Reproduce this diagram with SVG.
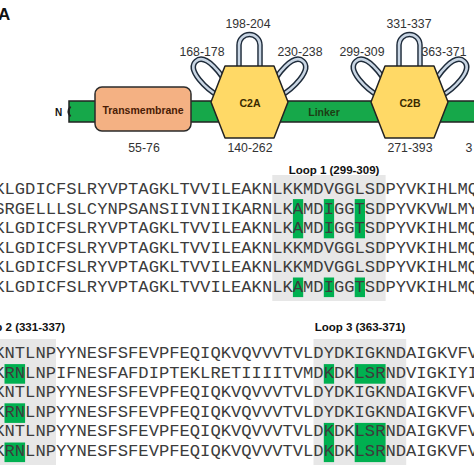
<svg xmlns="http://www.w3.org/2000/svg" width="474" height="474" viewBox="0 0 474 474">
<defs>
<style>
.num{font-family:"Liberation Sans",Arial,sans-serif;font-size:12.3px;fill:#333;text-anchor:middle}
.hex{fill:#ffd966;stroke:#222;stroke-width:1.5;stroke-linejoin:round}
.hext{font-family:"Liberation Sans",Arial,sans-serif;font-size:10.5px;font-weight:bold;fill:#3a2a00;text-anchor:middle}
.loopo{fill:none;stroke:#1f2c3b;stroke-width:5.5;stroke-linecap:round}
.loopi{fill:none;stroke:#c9d6e4;stroke-width:2.6;stroke-linecap:round}
.seq{font-family:"Liberation Mono","Courier New",monospace;font-size:17.17px;fill:#3c3c3c}
.lbl{font-family:"Liberation Sans",Arial,sans-serif;font-size:11.5px;font-weight:bold;fill:#111}
.g{fill:#00b050}
.gray{fill:#e7e7e7}
</style>
<path id="toploop" d="M -10.5,4 L -10.5,-21 A 10.5 10.5 0 0 1 10.5,-21 L 10.5,4"/>
<path id="sideloop" d="M -6,6 C -11,-8 -13,-36 0,-36 C 13,-36 11,-8 6,6"/>
</defs>
<rect width="474" height="474" fill="#fff"/>

<text id="panel-label" x="-2" y="20" font-family="Liberation Sans, Arial, sans-serif" font-weight="bold" font-size="17" fill="#111">A</text>

<g id="connectors">
<rect id="chain" x="69" y="101" width="420" height="21" fill="#16a84a" stroke="#222" stroke-width="1.5"/>
<path d="M70.5,106.5 q-4,5 0,10" fill="none" stroke="#222" stroke-width="2"/>
</g>

<g id="n-terminus"><text x="58.5" y="116" font-family="Liberation Sans, Arial, sans-serif" font-weight="bold" font-size="10" fill="#111" text-anchor="middle">N</text></g>

<g id="transmembrane">
<rect x="95" y="87" width="96" height="44" rx="7" fill="#f4b183" stroke="#2b2b2b" stroke-width="1.5"/>
<text x="143" y="113.5" font-family="Liberation Sans, Arial, sans-serif" font-weight="bold" font-size="10.5" fill="#4a1c05" text-anchor="middle">Transmembrane</text>
<text class="num" x="144" y="151.5">55-76</text>
</g>

<g id="linker"><text x="324" y="116" font-family="Liberation Sans, Arial, sans-serif" font-weight="bold" font-size="10.5" fill="#1d3d14" text-anchor="middle">Linker</text></g>

<g id="loops-c2a">
<use href="#sideloop" class="loopo" transform="translate(220,88) rotate(-42)"/>
<use href="#sideloop" class="loopi" transform="translate(220,88) rotate(-42)"/>
<use href="#toploop" class="loopo" transform="translate(249.5,66)"/>
<use href="#toploop" class="loopi" transform="translate(249.5,66)"/>
<use href="#sideloop" class="loopo" transform="translate(279,88) rotate(42)"/>
<use href="#sideloop" class="loopi" transform="translate(279,88) rotate(42)"/>
</g>
<g id="loops-c2b">
<use href="#sideloop" class="loopo" transform="translate(380,88) rotate(-42)"/>
<use href="#sideloop" class="loopi" transform="translate(380,88) rotate(-42)"/>
<use href="#toploop" class="loopo" transform="translate(409.5,66)"/>
<use href="#toploop" class="loopi" transform="translate(409.5,66)"/>
<use href="#sideloop" class="loopo" transform="translate(440,88) rotate(42)"/>
<use href="#sideloop" class="loopi" transform="translate(440,88) rotate(42)"/>
</g>

<g id="c2a">
<polygon class="hex" points="211,102 225,66 274,66 288,102 274,138 225,138"/>
<text class="hext" x="250" y="107">C2A</text>
<text class="num" x="250" y="151.5">140-262</text>
</g>
<g id="c2b">
<polygon class="hex" points="371,102 385,66 434,66 448,102 434,138 385,138"/>
<text class="hext" x="410" y="107">C2B</text>
<text class="num" x="410" y="151.5">271-393</text>
</g>

<g id="loop-labels">
<text class="num" x="202" y="56">168-178</text>
<text class="num" x="248" y="27.5">198-204</text>
<text class="num" x="300" y="56">230-238</text>
<text class="num" x="362" y="56">299-309</text>
<text class="num" x="409" y="27.5">331-337</text>
<text class="num" x="444" y="56" text-anchor="start">363-371</text>
<text class="num" x="469" y="151.5" text-anchor="start">3</text>
</g>

<g id="alignment-loop1">
<rect class="gray" x="272.3" y="175" width="113.3" height="126"/>
<rect class="g" x="292.9" y="199.1" width="10.3" height="39.2"/>
<rect class="g" x="323.8" y="199.1" width="10.3" height="39.2"/>
<rect class="g" x="354.7" y="199.1" width="10.3" height="39.2"/>
<rect class="g" x="292.9" y="277.5" width="10.3" height="19.6"/>
<rect class="g" x="323.8" y="277.5" width="10.3" height="19.6"/>
<rect class="g" x="354.7" y="277.5" width="10.3" height="19.6"/>
<text class="lbl" x="334" y="174" text-anchor="middle">Loop 1 (299-309)</text>
<text class="seq" x="-5.8" y="193.9">KLGDICFSLRYVPTAGKLTVVILEAKNLKKMDVGGLSDPYVKIHLMQ</text>
<text class="seq" x="-5.8" y="213.5">SRGELLLSLCYNPSANSIIVNIIKARNLKAMDIGGTSDPYVKVWLMY</text>
<text class="seq" x="-5.8" y="233.1">KLGDICFSLRYVPTAGKLTVVILEAKNLKAMDIGGTSDPYVKIHLMQ</text>
<text class="seq" x="-5.8" y="252.7">KLGDICFSLRYVPTAGKLTVVILEAKNLKKMDVGGLSDPYVKIHLMQ</text>
<text class="seq" x="-5.8" y="272.3">KLGDICFSLRYVPTAGKLTVVILEAKNLKKMDVGGLSDPYVKIHLMQ</text>
<text class="seq" x="-5.8" y="291.9">KLGDICFSLRYVPTAGKLTVVILEAKNLKAMDIGGTSDPYVKIHLMQ</text>
</g>

<g id="alignment-loops2-3">
<rect class="gray" x="-1" y="339" width="57" height="126"/>
<rect class="gray" x="313.5" y="339" width="92.7" height="126"/>
<rect class="g" x="4.5" y="364.1" width="20.6" height="19.6"/>
<rect class="g" x="4.5" y="403.3" width="20.6" height="19.6"/>
<rect class="g" x="4.5" y="442.5" width="20.6" height="19.6"/>
<rect class="g" x="323.8" y="364.1" width="10.3" height="19.6"/>
<rect class="g" x="354.7" y="364.1" width="30.9" height="19.6"/>
<rect class="g" x="323.8" y="422.9" width="10.3" height="39.2"/>
<rect class="g" x="354.7" y="422.9" width="30.9" height="39.2"/>
<text class="lbl" x="65" y="331" text-anchor="end">Loop 2 (331-337)</text>
<text class="lbl" x="360" y="331" text-anchor="middle">Loop 3 (363-371)</text>
<text class="seq" x="-5.8" y="357.9">KNTLNPYYNESFSFEVPFEQIQKVQVVVTVLDYDKIGKNDAIGKVFV</text>
<text class="seq" x="-5.8" y="377.5">KRNLNPIFNESFAFDIPTEKLRETIIIITVMDKDKLSRNDVIGKIYI</text>
<text class="seq" x="-5.8" y="397.1">KNTLNPYYNESFSFEVPFEQIQKVQVVVTVLDYDKIGKNDAIGKVFV</text>
<text class="seq" x="-5.8" y="416.7">KRNLNPYYNESFSFEVPFEQIQKVQVVVTVLDYDKIGKNDAIGKVFV</text>
<text class="seq" x="-5.8" y="436.3">KNTLNPYYNESFSFEVPFEQIQKVQVVVTVLDKDKLSRNDAIGKVFV</text>
<text class="seq" x="-5.8" y="455.9">KRNLNPYYNESFSFEVPFEQIQKVQVVVTVLDKDKLSRNDAIGKVFV</text>
</g>
</svg>
